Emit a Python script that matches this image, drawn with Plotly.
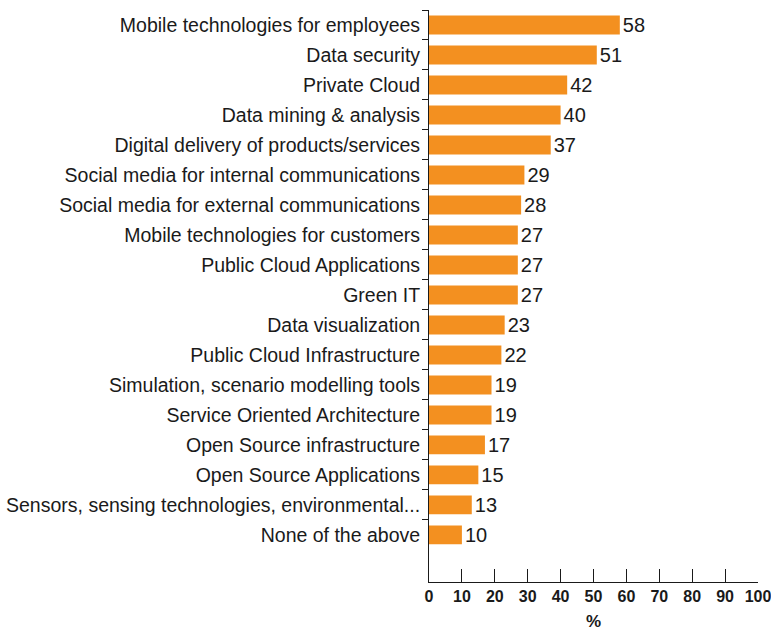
import plotly.graph_objects as go

categories = [
    "Mobile technologies for employees",
    "Data security",
    "Private Cloud",
    "Data mining & analysis",
    "Digital delivery of products/services",
    "Social media for internal communications",
    "Social media for external communications",
    "Mobile technologies for customers",
    "Public Cloud Applications",
    "Green IT",
    "Data visualization",
    "Public Cloud Infrastructure",
    "Simulation, scenario modelling tools",
    "Service Oriented Architecture",
    "Open Source infrastructure",
    "Open Source Applications",
    "Sensors, sensing technologies, environmental...",
    "None of the above",
]
values = [58, 51, 42, 40, 37, 29, 28, 27, 27, 27, 23, 22, 19, 19, 17, 15, 13, 10]
x_ticks = [0, 10, 20, 30, 40, 50, 60, 70, 80, 90, 100]

BAR_COLOR = "#F39020"
INK = "#1a1a1a"
FONT = "Liberation Sans, Arial, Helvetica, sans-serif"

fig = go.Figure(
    go.Bar(
        x=values,
        y=categories,
        orientation="h",
        marker=dict(color=BAR_COLOR, line=dict(width=0)),
        width=0.63,
        text=[str(v) for v in values],
        textposition="outside",
        constraintext="none",
        textfont=dict(size=20, color=INK, family=FONT),
        cliponaxis=False,
    )
)

fig.update_layout(
    width=771,
    height=632,
    margin=dict(l=429, r=13, t=10, b=50, autoexpand=False),
    plot_bgcolor="white",
    paper_bgcolor="white",
    showlegend=False,
    font=dict(family=FONT, color=INK),
)

fig.update_yaxes(
    type="category",
    categoryorder="array",
    categoryarray=categories,
    range=[18.57, -0.5],
    automargin=False,
    showline=True,
    linecolor=INK,
    linewidth=1,
    ticks="outside",
    tickson="boundaries",
    ticklen=6,
    tickcolor=INK,
    ticklabelstandoff=4,
    tickfont=dict(size=19.5, color=INK, family=FONT),
    showgrid=False,
    zeroline=False,
)

fig.update_xaxes(
    range=[0, 100],
    automargin=False,
    tickvals=x_ticks,
    ticktext=["<b>%d</b>" % t for t in x_ticks],
    ticklabeloverflow="allow",
    showline=True,
    linecolor=INK,
    linewidth=1,
    ticks="inside",
    ticklen=13,
    tickcolor=INK,
    tickfont=dict(size=16, color=INK, family=FONT),
    showgrid=False,
    zeroline=False,
    title=dict(text="<b>%</b>", font=dict(size=17, color=INK, family=FONT), standoff=10),
)

fig.write_html("out.html")
